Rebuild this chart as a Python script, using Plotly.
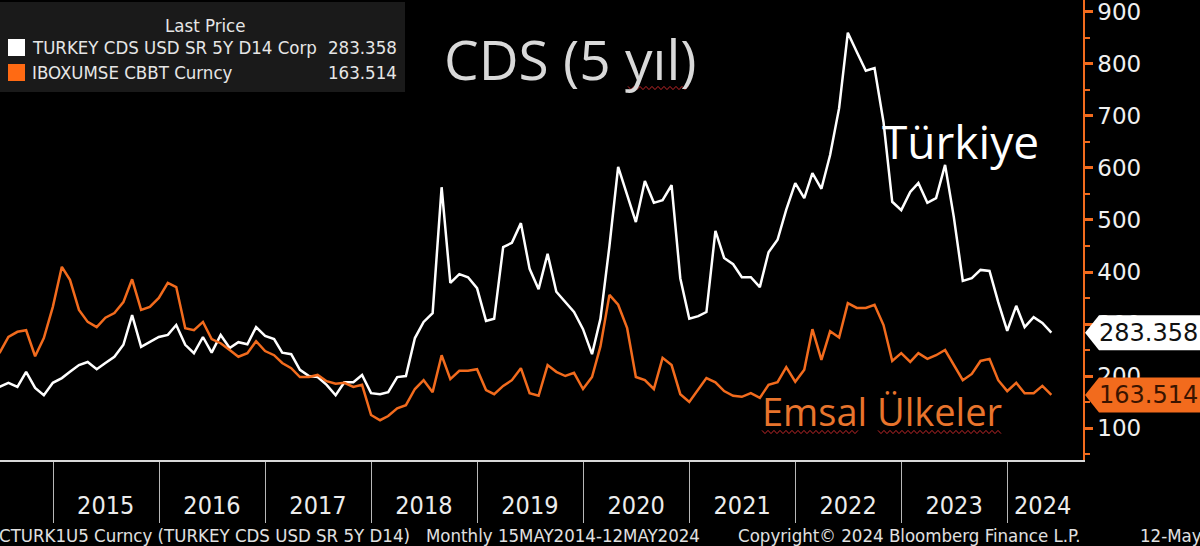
import pandas as pd
import plotly.graph_objects as go

# monthly observations, Jun 2014 .. May 2024 (month-end)
months = pd.date_range("2014-06-30", periods=120, freq="ME")

turkey_cds = [
    179, 187, 179, 208, 177, 163, 187, 196, 208, 221, 227, 213,
    225, 237, 260, 317, 256, 265, 275, 279, 298, 260, 244, 275,
    245, 279, 254, 265, 261, 294, 277, 271, 245, 242, 212, 200,
    198, 183, 163, 188, 188, 202, 167, 165, 169, 198, 200, 273,
    304, 321, 563, 379, 396, 390, 369, 306, 310, 448, 456, 494,
    406, 367, 435, 362, 342, 323, 290, 242, 310, 450, 602, 548,
    496, 575, 533, 538, 567, 388, 310, 315, 323, 479, 427, 415,
    390, 390, 371, 438, 462, 520, 571, 542, 590, 560, 625, 715,
    860, 823, 787, 792, 688, 535, 519, 554, 571, 533, 542, 606,
    506, 383, 388, 404, 402, 342, 287, 335, 294, 313, 302, 283.358,
]

peer_cds = [
    244, 275, 285, 288, 238, 273, 333, 410, 385, 327, 304, 294,
    312, 321, 342, 386, 327, 333, 350, 379, 371, 292, 288, 304,
    271, 263, 250, 237, 244, 267, 248, 240, 225, 215, 198, 198,
    202, 190, 185, 187, 179, 183, 125, 115, 123, 138, 144, 175,
    192, 169, 240, 194, 210, 210, 213, 173, 165, 181, 192, 215,
    167, 162, 221, 208, 200, 206, 175, 198, 257, 356, 337, 292,
    198, 192, 175, 235, 221, 165, 150, 175, 196, 188, 171, 162,
    160, 167, 158, 183, 188, 217, 189, 212, 290, 231, 286, 274,
    340, 331, 331, 337, 298, 229, 244, 227, 244, 233, 240, 250,
    221, 192, 204, 229, 233, 192, 171, 187, 167, 167, 181, 163.514,
]

series_names = ["TURKEY CDS USD SR 5Y D14 Corp", "IBOXUMSE CBBT Curncy"]
year_bounds = [f"{y}-01-01" for y in range(2015, 2025)]
year_label_pos = [f"{y}-07-01" for y in range(2015, 2024)] + ["2024-05-01"]
year_labels = [str(y) for y in range(2015, 2025)]
y_ticks = list(range(100, 1000, 100))

WHITE = "#ffffff"
ORANGE = "#f26b1d"
X_RANGE = ["2014-07-02", "2024-09-17"]
Y_RANGE = [38.5, 923]
PLOT_W, PLOT_H = 1083, 460


def px(x):
    return x / PLOT_W


def py(y):
    return (PLOT_H - y) / PLOT_H


def vy(v):
    return (v - Y_RANGE[0]) / (Y_RANGE[1] - Y_RANGE[0])


def squiggle(x0, x1, y, step=3.0, amp=1.6):
    pts = []
    x, up = x0, True
    while x <= x1:
        pts.append(f"{px(x):.5f},{py(y - amp if up else y + amp):.5f}")
        x += step
        up = not up
    return "M " + " L ".join(pts)


fig = go.Figure()
fig.add_trace(go.Scatter(x=months, y=turkey_cds, mode="lines", name=series_names[0],
                         line=dict(color=WHITE, width=2.5)))
fig.add_trace(go.Scatter(x=months, y=peer_cds, mode="lines", name=series_names[1],
                         line=dict(color=ORANGE, width=2.5)))

shapes = []
# legend panel
shapes.append(dict(type="rect", xref="paper", yref="paper", x0=px(0), x1=px(405),
                   y0=py(92), y1=py(2), fillcolor="#1a1a1a", line=dict(width=0), layer="above"))
shapes.append(dict(type="rect", xref="paper", yref="paper", x0=px(8), x1=px(25),
                   y0=py(56), y1=py(39), fillcolor=WHITE, line=dict(width=0)))
shapes.append(dict(type="rect", xref="paper", yref="paper", x0=px(8), x1=px(25),
                   y0=py(81), y1=py(64), fillcolor="#ff6a13", line=dict(width=0)))

# last-value tags on the right axis
for val, fill in [(turkey_cds[-1], WHITE), (peer_cds[-1], ORANGE)]:
    yc = vy(val)
    hh = 17.5 / PLOT_H
    path = (f"M {px(1085)},{yc} L {px(1099)},{yc + hh} L {px(1215)},{yc + hh} "
            f"L {px(1215)},{yc - hh} L {px(1099)},{yc - hh} Z")
    shapes.append(dict(type="path", xref="paper", yref="paper", path=path,
                       fillcolor=fill, line=dict(width=0)))

# spell-check squiggles
for x0, x1, y in [(628, 690, 88), (762, 860, 432), (878, 1002, 432)]:
    shapes.append(dict(type="path", xref="paper", yref="paper", path=squiggle(x0, x1, y),
                       line=dict(color="#c0282a", width=1)))

leg_font = dict(family="DejaVu Sans Condensed", size=18.5, color="#e6e6e6")
annotations = [
    dict(text="Last Price", x=px(205), y=py(25), xanchor="center", font=leg_font),
    dict(text=series_names[0], x=px(30), y=py(48), xanchor="left", font=leg_font),
    dict(text=f"{turkey_cds[-1]:.3f}", x=px(399), y=py(48), xanchor="right", font=leg_font),
    dict(text=series_names[1], x=px(30), y=py(72), xanchor="left", font=leg_font),
    dict(text=f"{peer_cds[-1]:.3f}", x=px(399), y=py(72), xanchor="right", font=leg_font),
    dict(text="CDS (5 yıl)", x=px(570), y=py(58), xanchor="center",
         font=dict(family="Open Sans", size=55, color="#d9d9d9")),
    dict(text="Türkiye", x=px(960), y=py(141), xanchor="center",
         font=dict(family="Open Sans", size=46, color=WHITE)),
    dict(text="Emsal Ülkeler", x=px(882), y=py(411), xanchor="center",
         font=dict(family="Open Sans", size=38, color="#e8742c")),
]
tag_font = dict(family="DejaVu Sans", size=24)
annotations.append(dict(text=f"{turkey_cds[-1]:.3f}", x=px(1097), y=turkey_cds[-1], yref="y",
                        xanchor="left", font=dict(color="#111111", **tag_font)))
annotations.append(dict(text=f"{peer_cds[-1]:.3f}", x=px(1097), y=peer_cds[-1], yref="y",
                        xanchor="left", font=dict(color="#3a1400", **tag_font)))

foot_font = dict(family="DejaVu Sans Condensed", size=18.5, color="#e0e0e0")
for txt, x in [("CTURK1U5 Curncy (TURKEY CDS USD SR 5Y D14)", -3),
               ("Monthly 15MAY2014-12MAY2024", 424),
               ("Copyright© 2024 Bloomberg Finance L.P.", 736),
               ("12-May-24", 1138)]:
    annotations.append(dict(text=txt, x=px(x), y=py(535), xanchor="left", font=foot_font))

for a in annotations:
    a.setdefault("xref", "paper")
    a.setdefault("yref", "paper")
    a.setdefault("yanchor", "middle")
    a["showarrow"] = False

fig.update_layout(
    width=1200, height=546,
    margin=dict(l=0, r=117, t=0, b=86),
    paper_bgcolor="black", plot_bgcolor="black",
    showlegend=False,
    shapes=shapes,
    annotations=annotations,
    xaxis=dict(
        type="date", range=X_RANGE, showgrid=False, zeroline=False,
        showline=True, linecolor="#d8d8d8", linewidth=1.5,
        ticks="", tickmode="array", tickvals=year_label_pos, ticktext=year_labels,
        tickfont=dict(family="DejaVu Sans Condensed", size=25, color="#ececec"),
        ticklabelstandoff=22,
        minor=dict(ticks="outside", tickmode="array", tickvals=year_bounds,
                   ticklen=61, tickwidth=1, tickcolor="#b8b8b8"),
    ),
    yaxis=dict(
        side="right", range=Y_RANGE, showgrid=False, zeroline=False,
        showline=True, linecolor=ORANGE, linewidth=1.5,
        tickmode="array", tickvals=y_ticks, ticklabeloverflow="allow",
        ticks="outside", ticklen=8, tickwidth=3, tickcolor=ORANGE,
        tickfont=dict(family="DejaVu Sans", size=23, color="#f0f0f0"),
        minor=dict(ticks="outside", tick0=50, dtick=100, ticklen=5,
                   tickwidth=1.5, tickcolor=ORANGE),
    ),
)

fig.write_html("out.html", config={"displayModeBar": False},
               post_script="document.body.style.margin='0';")
